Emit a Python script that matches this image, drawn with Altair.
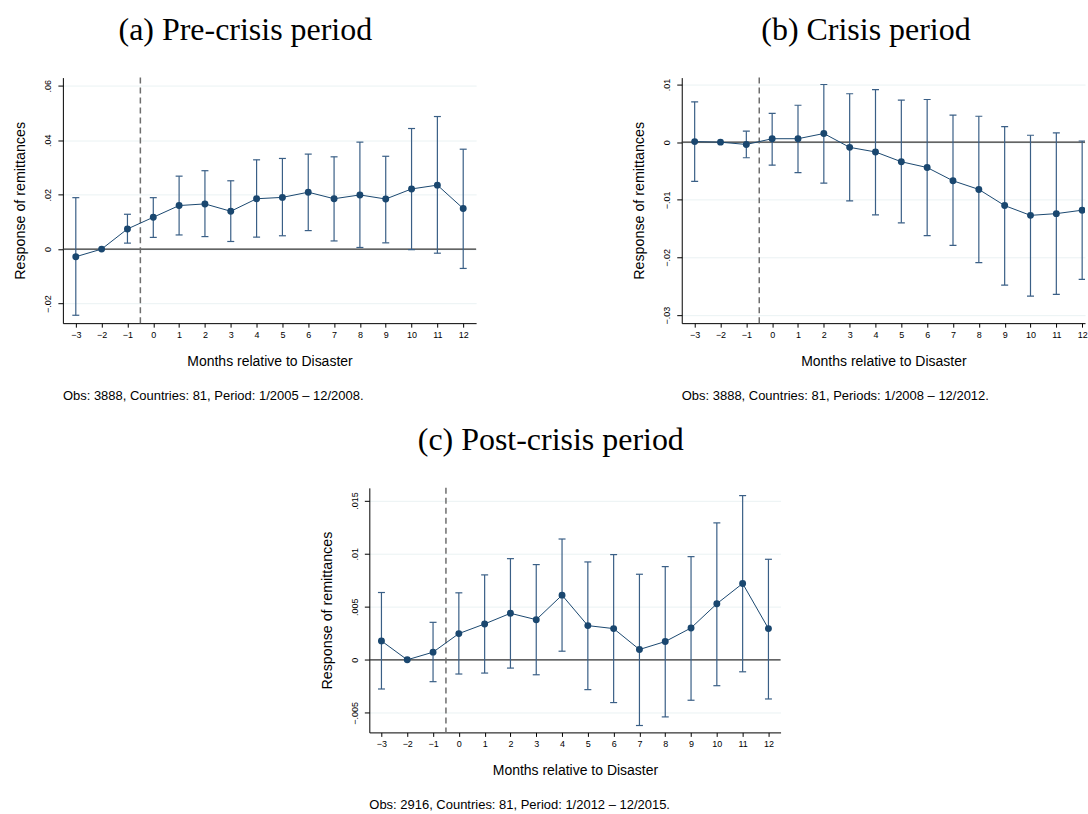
import altair as alt
import pandas as pd

months = list(range(-3, 13))

# Panel (a) Pre-crisis
a_coef = [-0.0028, 0.0, 0.0074, 0.0117, 0.0160, 0.0166, 0.0139, 0.0185, 0.0190, 0.0209, 0.0185, 0.0199, 0.0184, 0.0221, 0.0235, 0.0149]
a_lo = [-0.0243, None, 0.0022, 0.0043, 0.0052, 0.0046, 0.0028, 0.0044, 0.0049, 0.0068, 0.0030, 0.0006, 0.0023, -0.0002, -0.0015, -0.0071]
a_hi = [0.0189, None, 0.0128, 0.0189, 0.0268, 0.0288, 0.0251, 0.0328, 0.0333, 0.0349, 0.0339, 0.0393, 0.0341, 0.0443, 0.0487, 0.0367]
a_yticks = [-0.02, 0, 0.02, 0.04, 0.06]

# Panel (b) Crisis
b_coef = [0.0001, 0.0, -0.0004, 0.0006, 0.0006, 0.0015, -0.0009, -0.0017, -0.0034, -0.0044, -0.0067, -0.0082, -0.0110, -0.0127, -0.0124, -0.0118]
b_lo = [-0.0068, None, -0.0027, -0.0040, -0.0053, -0.0071, -0.0102, -0.0126, -0.0140, -0.0162, -0.0179, -0.0209, -0.0248, -0.0267, -0.0264, -0.0238]
b_hi = [0.0070, None, 0.0019, 0.0050, 0.0064, 0.0100, 0.0084, 0.0091, 0.0073, 0.0074, 0.0047, 0.0045, 0.0027, 0.0012, 0.0016, 0.0002]
b_yticks = [-0.03, -0.02, -0.01, 0, 0.01]

# Panel (c) Post-crisis
c_coef = [0.00178, 0.0, 0.00072, 0.00247, 0.00338, 0.00438, 0.00378, 0.00609, 0.00322, 0.00294, 0.00097, 0.00172, 0.00300, 0.00528, 0.00719, 0.00294]
c_lo = [-0.00275, None, -0.00206, -0.00134, -0.00125, -0.00078, -0.00141, 0.00081, -0.00281, -0.00403, -0.00619, -0.00538, -0.00381, -0.00244, -0.00113, -0.00369]
c_hi = [0.00634, None, 0.00353, 0.00631, 0.00800, 0.00953, 0.00897, 0.01138, 0.00922, 0.00991, 0.00806, 0.00878, 0.00972, 0.01290, 0.01547, 0.00947]
c_yticks = [-0.005, 0, 0.005, 0.01, 0.015]

titles = ["(a) Pre-crisis period", "(b) Crisis period", "(c) Post-crisis period"]
captions = [
    "Obs: 3888, Countries: 81, Period: 1/2005 \u2013 12/2008.",
    "Obs: 3888, Countries: 81, Periods: 1/2008 \u2013 12/2012.",
    "Obs: 2916, Countries: 81, Period: 1/2012 \u2013 12/2015.",
]

NAVY = "#1a476f"
CI = "#3a5f86"
SANS = "Liberation Sans"
SERIF = "Liberation Serif"


def panel(title, caption, coef, lo, hi, yticks, ydom, xdom, width, height, clip=False, title_dx=0):
    df = pd.DataFrame({"month": months, "coef": coef, "lo": lo, "hi": hi})
    xaxis = alt.Axis(
        values=months, title="Months relative to Disaster", format="d",
        labelFont=SANS, labelFontSize=9, labelColor="#000", labelPadding=3,
        tickSize=4, tickColor="#000", domainColor="#000", domainWidth=1,
        titleFont=SANS, titleFontSize=14, titleFontWeight="normal", titleColor="#000",
        titlePadding=15, grid=False,
    )
    yaxis = alt.Axis(
        values=yticks, title="Response of remittances",
        labelExpr="datum.value == 0 ? '0' : replace(format(datum.value, '.3~f'), '0.', '.')",
        labelAngle=270, labelFont=SANS, labelFontSize=9, labelColor="#000", labelPadding=5,
        tickSize=5, tickColor="#000", domainColor="#000", domainWidth=1,
        titleFont=SANS, titleFontSize=14.3, titleFontWeight="normal", titleColor="#000",
        titlePadding=16, grid=True, gridColor="#eaf2f3", gridWidth=1,
    )
    xs = alt.Scale(domain=xdom, nice=False, zero=False)
    ys = alt.Scale(domain=ydom, nice=False, zero=False)
    base = alt.Chart(df)
    X = alt.X("month:Q", scale=xs, axis=xaxis)

    bars = base.mark_rule(color=CI, strokeWidth=1.2, clip=clip).encode(
        x=X, y=alt.Y("lo:Q", scale=ys, axis=yaxis), y2="hi:Q")
    cap_hi = base.mark_rule(color=CI, strokeWidth=1.2, xOffset=-3.5, x2Offset=3.5, clip=clip).encode(
        x=X, x2="month:Q", y=alt.Y("hi:Q", scale=ys, axis=yaxis))
    cap_lo = base.mark_rule(color=CI, strokeWidth=1.2, xOffset=-3.5, x2Offset=3.5, clip=clip).encode(
        x=X, x2="month:Q", y=alt.Y("lo:Q", scale=ys, axis=yaxis))
    zero = alt.Chart(pd.DataFrame({"z": [0]})).mark_rule(color="#333", strokeWidth=1.2).encode(
        y=alt.Y("z:Q", scale=ys, axis=yaxis))
    vline = alt.Chart(pd.DataFrame({"v": [-0.5]})).mark_rule(
        color="#6e6e6e", strokeWidth=1.5, strokeDash=[6, 4]).encode(
        x=alt.X("v:Q", scale=xs, axis=xaxis))
    line = base.mark_line(color=NAVY, strokeWidth=1, clip=clip).encode(
        x=X, y=alt.Y("coef:Q", scale=ys, axis=yaxis))
    pts = base.mark_circle(color=NAVY, size=48, opacity=1, clip=clip).encode(
        x=X, y=alt.Y("coef:Q", scale=ys, axis=yaxis))
    cap_text = alt.Chart(pd.DataFrame({"t": [caption]})).mark_text(
        align="left", baseline="middle", font=SANS, fontSize=13, color="#000").encode(
        x=alt.value(0), y=alt.value(height + 73), text="t:N")

    return alt.layer(zero, vline, bars, cap_hi, cap_lo, line, pts, cap_text).properties(
        width=width, height=height,
        title=alt.TitleParams(title, font=SERIF, fontSize=32, fontWeight="normal",
                              color="#000", anchor="middle", frame="bounds", offset=30,
                              dx=title_dx),
    )


pa = panel(titles[0], captions[0], a_coef, a_lo, a_hi, a_yticks, [-0.0272, 0.063], [-3.5, 12.5], 414, 246)
pb = panel(titles[1], captions[1], b_coef, b_lo, b_hi, b_yticks, [-0.0314, 0.0112], [-3.5, 12.11], 404, 246,
           clip=True, title_dx=6)
pc = panel(titles[2], captions[2], c_coef, c_lo, c_hi, c_yticks, [-0.00684, 0.0162], [-3.47, 12.47], 412, 245)

spacer = alt.Chart(pd.DataFrame({"t": [""]})).mark_text().encode(text="t:N").properties(width=257, height=10)

row1 = alt.hconcat(pa, pb, spacing=154)
row2 = alt.hconcat(spacer, pc, spacing=0)
chart = alt.vconcat(row1, row2, spacing=19).properties(
    padding={"left": 13, "top": 12, "right": 0, "bottom": 0},
    background="white",
).configure_view(stroke="transparent")

chart.save("out.html", embed_options={"renderer": "svg", "actions": False})
